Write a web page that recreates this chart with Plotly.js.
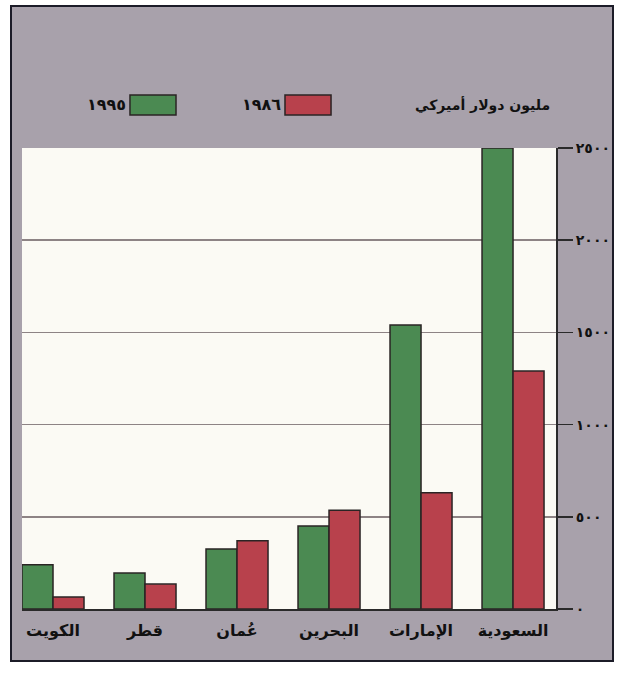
<!DOCTYPE html>
<html>
<head>
<meta charset="utf-8">
<script src="https://cdn.plot.ly/plotly-3.0.1.min.js"></script>
<style>
html,body{margin:0;padding:0;background:#ffffff;}
#chart{position:absolute;left:10px;top:5px;width:600px;height:653px;border:2px solid #1c1c28;background:#a8a1ab;}
</style>
</head>
<body>
<div id="chart"></div>
<script>
// Data (left to right as drawn)
var categories = ["الكويت", "قطر", "عُمان", "البحرين", "الإمارات", "السعودية"];
var values1995 = [240, 195, 325, 450, 1540, 2500];
var values1986 = [65, 135, 370, 535, 630, 1290];
var seriesNames = ["١٩٩٥", "١٩٨٦"];
var unitLabel = "مليون دولار أميركي";
var yTickVals = [0, 500, 1000, 1500, 2000, 2500];
var yTickText = ["٠", "٥٠٠", "١٠٠٠", "١٥٠٠", "٢٠٠٠", "٢٥٠٠"];

var green = "#4b8a52";
var red = "#b8414c";
var edge = "#2a2424";
var font = "DejaVu Sans";

var xIdx = categories.map(function(_, i){ return i; });

var traces = [
  {type: "bar", x: xIdx, y: values1995, name: seriesNames[0], showlegend: false,
   marker: {color: green, line: {color: edge, width: 1.5}}, hoverinfo: "y"},
  {type: "bar", x: xIdx, y: values1986, name: seriesNames[1], showlegend: false,
   marker: {color: red, line: {color: edge, width: 1.5}}, hoverinfo: "y"}
];

var layout = {
  width: 600, height: 653,
  margin: {l: 10, r: 56, t: 141, b: 51},
  paper_bgcolor: "#a8a1ab",
  plot_bgcolor: "#fbfaf4",
  barmode: "group",
  bargap: 0.326,
  bargroupgap: 0,
  font: {family: font, color: "#111111"},
  xaxis: {
    range: [-0.337, 5.467],
    tickvals: xIdx,
    ticktext: categories.map(function(c){ return "<b>" + c + "</b>"; }),
    tickfont: {family: font, size: 16, color: "#111111"},
    ticks: "",
    ticklabelstandoff: 6,
    showgrid: false,
    zeroline: false,
    showline: true, linecolor: "#2a2a2a", linewidth: 2,
    fixedrange: true
  },
  yaxis: {
    side: "right",
    range: [0, 2500],
    tickvals: yTickVals,
    ticktext: yTickText.map(function(t){ return "<b>" + t + "</b>"; }),
    tickfont: {family: font, size: 14, color: "#111111"},
    ticks: "outside", ticklen: 15, tickcolor: "#2a2a2a", tickwidth: 1.5,
    showgrid: true, gridcolor: "#8d8384", gridwidth: 1.5,
    zeroline: false,
    showline: true, linecolor: "#2a2a2a", linewidth: 2,
    fixedrange: true
  },
  shapes: [
    {type: "rect", xref: "paper", yref: "paper", x0: 0.2022, x1: 0.2884, y0: 1.0716, y1: 1.115,
     fillcolor: green, line: {color: edge, width: 1.5}},
    {type: "rect", xref: "paper", yref: "paper", x0: 0.4925, x1: 0.5787, y0: 1.0716, y1: 1.115,
     fillcolor: red, line: {color: edge, width: 1.5}}
  ],
  annotations: [
    {xref: "paper", yref: "paper", x: 0.9925, y: 1.0935, xanchor: "right", yanchor: "middle",
     text: "<b>" + unitLabel + "</b>", showarrow: false, font: {family: font, size: 14, color: "#111111"}},
    {xref: "paper", yref: "paper", x: 0.4888, y: 1.0935, xanchor: "right", yanchor: "middle",
     text: "<b>" + seriesNames[1] + "</b>", showarrow: false, font: {family: font, size: 16, color: "#111111"}},
    {xref: "paper", yref: "paper", x: 0.1985, y: 1.0935, xanchor: "right", yanchor: "middle",
     text: "<b>" + seriesNames[0] + "</b>", showarrow: false, font: {family: font, size: 16, color: "#111111"}}
  ]
};

Plotly.newPlot("chart", traces, layout, {displayModeBar: false, staticPlot: true});
</script>
</body>
</html>
